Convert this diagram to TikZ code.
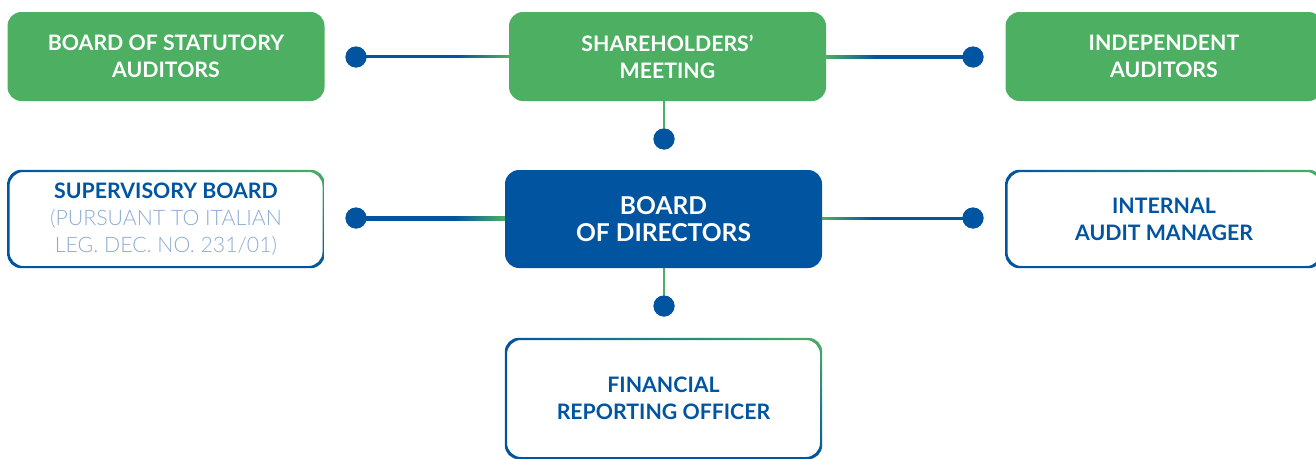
\documentclass[tikz,border=0pt]{standalone}
\usepackage{fontspec}
\setmainfont{Lato}
\newfontfamily\lightfont{Lato Light}
\usetikzlibrary{calc,shadings}
\definecolor{cgreen}{RGB}{76,175,98}
\definecolor{cblue}{RGB}{0,84,160}
\definecolor{clight}{RGB}{140,172,212}
\pgfdeclarehorizontalshading{lineL}{100bp}{color(0bp)=(cblue); color(25bp)=(cblue); color(58bp)=(cblue); color(75bp)=(cgreen); color(100bp)=(cgreen)}
\pgfdeclarehorizontalshading{lineR}{100bp}{color(0bp)=(cgreen); color(25bp)=(cgreen); color(42bp)=(cblue); color(75bp)=(cblue); color(100bp)=(cblue)}
\newcommand{\ringbox}[1]{%
  \shade[even odd rule, lower left=cblue, upper left=cblue, lower right=cblue, upper right=cgreen, rounded corners=14pt]
    (#1.south west) rectangle (#1.north east)
    ($(#1.south west)+(2.2,-2.2)$) rectangle ($(#1.north east)+(-2.2,2.2)$);}
\begin{document}
\begin{tikzpicture}[x=1pt,y=-1pt,
  box/.style={minimum width=317pt, minimum height=89pt, inner sep=0pt, align=center,
    font=\bfseries\fontsize{21.3}{27}\selectfont, rounded corners=14pt},
  gbox/.style={box, fill=cgreen, text=white},
  obox/.style={box, minimum height=98pt, text=cblue},
  dot/.style={circle, fill=cblue, minimum size=21pt, inner sep=0pt},
  vline/.style={cgreen, line width=2.2pt}]
\useasboundingbox (0,0) rectangle (1316,458);
\clip (0,0) rectangle (1316,458);
% top row
\node[gbox] (bsa) at (166,56.5) {BOARD OF STATUTORY\\AUDITORS};
\node[gbox] (sm) at (667.5,56.5) {SHAREHOLDERS’\\MEETING};
\node[gbox] (ia) at (1164,56.5) {INDEPENDENT\\AUDITORS};
% middle row
\node[box, minimum height=98pt, fill=cblue, text=white, font=\bfseries\fontsize{24.6}{27}\selectfont] (bod) at (663.5,219) {BOARD\\OF DIRECTORS};
\node[obox] (sb) at (166,219) {SUPERVISORY BOARD\\{\lightfont\mdseries\color{clight}(PURSUANT TO ITALIAN}\\{\lightfont\mdseries\color{clight}LEG. DEC. NO. 231/01)}};
\node[obox] (iam) at (1164,219) {INTERNAL\\AUDIT MANAGER};
% bottom
\node[obox, minimum height=121pt] (fro) at (663.5,398.5) {FINANCIAL\\REPORTING OFFICER};
\ringbox{sb}
\ringbox{iam}
\ringbox{fro}
% dots
\node[dot] (d1) at (356,57) {};
\node[dot] (d2) at (973,57) {};
\node[dot] (d3) at (664,139) {};
\node[dot] (d4) at (356,218) {};
\node[dot] (d5) at (973,218) {};
\node[dot] (d6) at (664,306) {};
% connectors
\shade[shading=lineL] ($(d1.center)+(0,-1.1)$) rectangle ($(sm.west)+(0,1.1)$);
\shade[shading=lineR] ($(sm.east)+(0,-1.1)$) rectangle ($(d2.center)+(0,1.1)$);
\shade[shading=lineL] ($(d4.center)+(0,-1.1)$) rectangle ($(bod.west)+(0,1.1)$);
\shade[shading=lineR] ($(bod.east)+(0,-1.1)$) rectangle ($(d5.center)+(0,1.1)$);
\draw[vline] (d3.center) -- (d3 |- sm.south);
\draw[vline] (d6.center) -- (d6 |- bod.south);
\node[dot] at (d1) {};
\node[dot] at (d2) {};
\node[dot] at (d3) {};
\node[dot] at (d4) {};
\node[dot] at (d5) {};
\node[dot] at (d6) {};
\end{tikzpicture}
\end{document}
